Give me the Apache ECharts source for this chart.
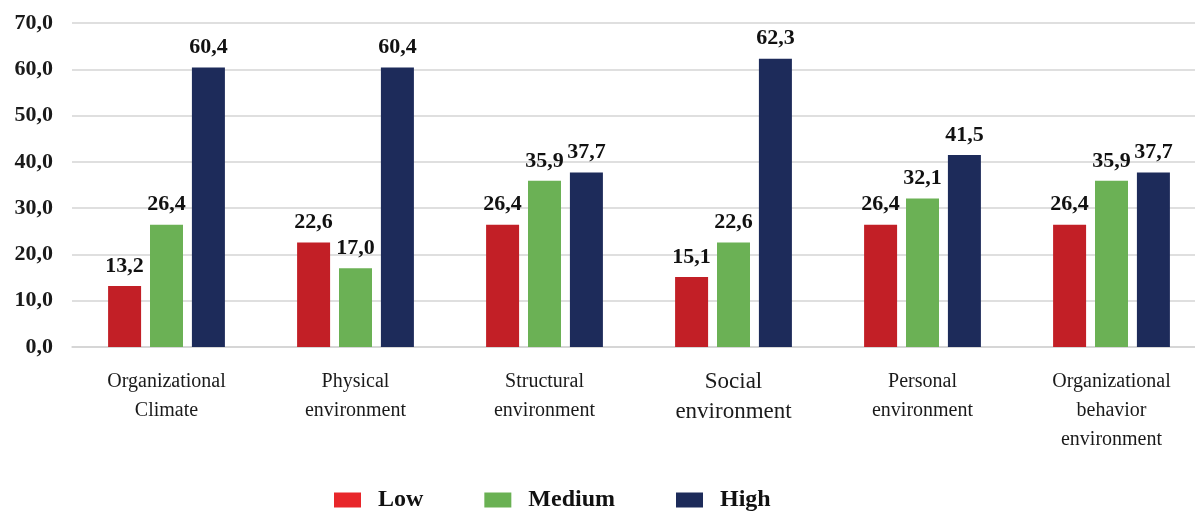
<!DOCTYPE html>
<html>
<head>
<meta charset="utf-8">
<script src="https://cdn.jsdelivr.net/npm/echarts@6/dist/echarts.min.js"></script>
<style>
html,body{margin:0;padding:0;background:#fff;}
#main{width:1195px;height:511px;}
</style>
</head>
<body>
<div id="main"></div>
<script>
const categories = [
  'Organizational\nClimate',
  'Physical\nenvironment',
  'Structural\nenvironment',
  'Social\nenvironment',
  'Personal\nenvironment',
  'Organizational\nbehavior\nenvironment'
];
const seriesNames = ['Low', 'Medium', 'High'];
const lowValues = [13.2, 22.6, 26.4, 15.1, 26.4, 26.4];
const mediumValues = [26.4, 17.0, 35.9, 22.6, 32.1, 35.9];
const highValues = [60.4, 60.4, 37.7, 62.3, 41.5, 37.7];
const yTicks = [0, 10, 20, 30, 40, 50, 60, 70];

const barColors = ['#C21F26', '#6BB155', '#1D2B5A'];
const legendColors = ['#E8262A', '#6AB153', '#1D2B5A'];
const serif = '"Liberation Serif", "Times New Roman", serif';
const fmt = v => Number(v).toFixed(1).replace('.', ',');

const chart = echarts.init(document.getElementById('main'));
const dataSets = [lowValues, mediumValues, highValues];

chart.setOption({
  animation: false,
  backgroundColor: '#ffffff',
  grid: { left: 72, top: 23, bottom: 164, width: 1134, containLabel: false, outerBoundsMode: 'none' },
  legend: {
    left: 329, top: 483,
    itemWidth: 27, itemHeight: 15, itemGap: 61,
    icon: 'rect',
    textStyle: { fontFamily: serif, fontWeight: 'bold', fontSize: 24, color: '#111', padding: [0, 0, 0, 12] },
    data: seriesNames.map((n, i) => ({ name: n, itemStyle: { color: legendColors[i] } }))
  },
  xAxis: {
    type: 'category',
    data: categories,
    axisLine: { show: true, lineStyle: { color: '#d4d4d4', width: 1.5 } },
    axisTick: { show: false },
    axisLabel: {
      interval: 0,
      margin: 20,
      fontFamily: serif,
      fontSize: 20,
      lineHeight: 29,
      color: '#1a1a1a',
      formatter: function (v) {
        if (v.indexOf('Social') === 0) {
          return v.split('\n').map(s => '{big|' + s + '}').join('\n');
        }
        return v;
      },
      rich: {
        big: { fontFamily: serif, fontSize: 23, lineHeight: 30, color: '#1a1a1a' }
      }
    }
  },
  yAxis: {
    type: 'value',
    min: 0, max: 70, interval: 10,
    axisLine: { show: false },
    axisTick: { show: false },
    splitLine: { lineStyle: { color: '#d4d4d4', width: 1.5 } },
    axisLabel: {
      margin: 19,
      fontFamily: serif,
      fontWeight: 'bold',
      fontSize: 22,
      color: '#1a1a1a',
      formatter: v => yTicks.includes(v) ? fmt(v) : ''
    }
  },
  series: seriesNames.map((n, i) => ({
    name: n,
    type: 'bar',
    data: dataSets[i],
    barWidth: 33,
    barGap: '27%',
    itemStyle: { color: barColors[i] },
    label: {
      show: true,
      position: 'top',
      distance: 9,
      fontFamily: serif,
      fontWeight: 'bold',
      fontSize: 22,
      color: '#111',
      formatter: p => fmt(p.value)
    }
  }))
});
</script>
</body>
</html>
